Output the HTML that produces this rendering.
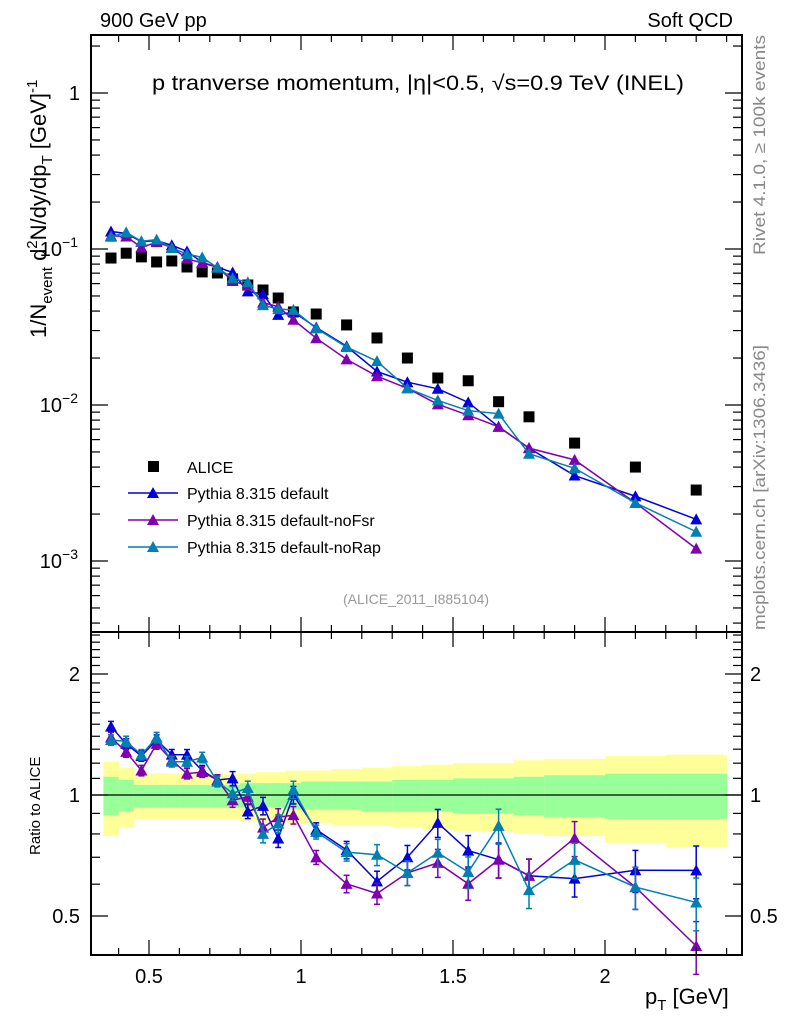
<!DOCTYPE html>
<html><head><meta charset="utf-8"><style>
html,body{margin:0;padding:0;background:#fff;}
svg{display:block;font-family:"Liberation Sans",Arial,sans-serif;}
</style></head><body>
<svg id="chart" width="786" height="1024" viewBox="0 0 786 1024" xmlns="http://www.w3.org/2000/svg">
<text x="100" y="27" font-size="20">900 GeV pp</text>
<text x="733" y="27" font-size="20" text-anchor="end">Soft QCD</text>
<text x="152" y="90" font-size="21" textLength="532" lengthAdjust="spacingAndGlyphs">p tranverse momentum, |η|&lt;0.5, √s=0.9 TeV (INEL)</text>
<text x="416" y="604" font-size="14" fill="#999" text-anchor="middle">(ALICE_2011_I885104)</text>
<text transform="translate(765,255) rotate(-90)" font-size="17" fill="#888" textLength="220" lengthAdjust="spacingAndGlyphs">Rivet 4.1.0, ≥ 100k events</text>
<text transform="translate(765,630) rotate(-90)" font-size="17" fill="#888" textLength="285" lengthAdjust="spacingAndGlyphs">mcplots.cern.ch [arXiv:1306.3436]</text>
<text transform="translate(46,338) rotate(-90)" font-size="22">1/N<tspan font-size="15" dy="6">event</tspan><tspan dy="-6"> d</tspan><tspan font-size="15" dy="-9">2</tspan><tspan dy="9">N/dy/dp</tspan><tspan font-size="15" dy="6">T</tspan><tspan dy="-6"> [GeV]</tspan><tspan font-size="15" dy="-9">-1</tspan></text>
<text transform="translate(40,855) rotate(-90)" font-size="15">Ratio to ALICE</text>
<text x="645" y="1004" font-size="22">p<tspan font-size="15" dy="6">T</tspan><tspan dy="-6"> [GeV]</tspan></text>
<g id="g"></g>
</svg>
<script>
const xs=[0.375,0.425,0.475,0.525,0.575,0.625,0.675,0.725,0.775,0.825,0.875,0.925,0.975,1.05,1.15,1.25,1.35,1.45,1.55,1.65,1.75,1.9,2.1,2.3];
const binLo=[0.35,0.4,0.45,0.5,0.55,0.6,0.65,0.7,0.75,0.8,0.85,0.9,0.95,1.0,1.1,1.2,1.3,1.4,1.5,1.6,1.7,1.8,2.0,2.2];
const binHi=[0.4,0.45,0.5,0.55,0.6,0.65,0.7,0.75,0.8,0.85,0.9,0.95,1.0,1.1,1.2,1.3,1.4,1.5,1.6,1.7,1.8,2.0,2.2,2.4];
const alice=[0.0875,0.094,0.089,0.0826,0.0838,0.0767,0.0713,0.0702,0.0643,0.0588,0.0546,0.0485,0.0395,0.0383,0.0326,0.0269,0.0200,0.0149,0.0143,0.0105,0.0084,0.0057,0.0040,0.00285];
const pyDefault=[0.1295,0.1260,0.1113,0.1132,0.1056,0.0966,0.0820,0.0765,0.0707,0.0535,0.0513,0.0378,0.0395,0.0314,0.0238,0.0164,0.0140,0.0127,0.0104,0.00725,0.00529,0.00353,0.0026,0.00185];
const pyNoFsr=[0.1216,0.1203,0.1024,0.1107,0.1022,0.0867,0.0813,0.0765,0.0624,0.0582,0.0453,0.0427,0.0352,0.0268,0.0196,0.0153,0.0128,0.0101,0.0086,0.00725,0.00529,0.00445,0.00236,0.0012];
const pyNoRap=[0.1199,0.1278,0.1121,0.1148,0.1014,0.0928,0.0884,0.0758,0.0649,0.0612,0.0437,0.0412,0.0407,0.0310,0.0235,0.0191,0.0128,0.0107,0.0092,0.0088,0.00487,0.00393,0.00236,0.00154];
const relErr=[0.03,0.03,0.03,0.03,0.03,0.03,0.03,0.03,0.04,0.04,0.05,0.05,0.05,0.04,0.05,0.06,0.07,0.08,0.09,0.1,0.1,0.1,0.12,0.15];
const yelHi=[1.21,1.17,1.13,1.13,1.13,1.13,1.13,1.13,1.13,1.13,1.14,1.14,1.15,1.15,1.16,1.17,1.18,1.19,1.2,1.2,1.22,1.23,1.25,1.26];
const yelLo=[0.79,0.83,0.87,0.87,0.87,0.87,0.87,0.87,0.87,0.86,0.86,0.86,0.85,0.85,0.84,0.84,0.83,0.82,0.81,0.81,0.8,0.79,0.76,0.74];
const grnHi=[1.11,1.09,1.06,1.06,1.06,1.06,1.06,1.06,1.06,1.07,1.07,1.07,1.07,1.08,1.08,1.08,1.09,1.09,1.1,1.1,1.11,1.12,1.13,1.13];
const grnLo=[0.89,0.91,0.93,0.93,0.93,0.93,0.93,0.93,0.93,0.93,0.93,0.93,0.92,0.92,0.92,0.91,0.91,0.91,0.9,0.9,0.89,0.88,0.87,0.87];
const xTickLabels=["0.5","1","1.5","2"];
const xTickVals=[0.5,1,1.5,2];
const ratioTickLabels=["0.5","1","2"];
const ratioTickVals=[0.5,1,2];

const L=91,R=742,T=35,MID=632,B=955;
const X=v=>-3+304*v;
const Y=v=>93-156*Math.log10(v);
const RY=r=>795-121*Math.log2(r);
const NS="http://www.w3.org/2000/svg";
const g=document.getElementById('g');
function mk(tag,attrs,parent){const e=document.createElementNS(NS,tag);for(const k in attrs)e.setAttribute(k,attrs[k]);(parent||g).appendChild(e);return e;}

for(let i=0;i<xs.length;i++){
  const y1=mk('rect',{x:X(binLo[i]),y:RY(yelHi[i]),width:X(binHi[i])-X(binLo[i])+0.5,height:RY(yelLo[i])-RY(yelHi[i]),fill:'#ffff99'});
  
  
  const g1=mk('rect',{x:X(binLo[i]),y:RY(grnHi[i]),width:X(binHi[i])-X(binLo[i])+0.5,height:RY(grnLo[i])-RY(grnHi[i]),fill:'#99ff99'});
  
  
}
const ref=mk('line',{x1:L,x2:R,y1:RY(1),y2:RY(1),stroke:'#000','stroke-width':1.2});



function tri(x,y,c,parent){return mk('polygon',{points:`${x},${y-6} ${x-6},${y+5} ${x+6},${y+5}`,fill:c},parent);}

for(let i=0;i<xs.length;i++){
  const s=mk('rect',{x:X(xs[i])-5.5,y:Y(alice[i])-5.5,width:11,height:11,fill:'#000'});
  
  
}

const series=[[pyDefault,'#0000dd','pythia-default'],[pyNoFsr,'#7f00b0','pythia-nofsr'],[pyNoRap,'#0080b0','pythia-norap']];
series.forEach(([vals,c,nm])=>{
  const sg=mk('g',{});
  
  
  const pm=xs.map((x,i)=>X(x)+','+Y(vals[i])).join(' ');
  mk('polyline',{points:pm,fill:'none',stroke:c,'stroke-width':1.5},sg);
  const pr=xs.map((x,i)=>X(x)+','+RY(vals[i]/alice[i])).join(' ');
  mk('polyline',{points:pr,fill:'none',stroke:c,'stroke-width':1.5},sg);
  xs.forEach((x,i)=>{
    const r=vals[i]/alice[i], e=r*relErr[i];
    const cx=X(x);
    mk('line',{x1:cx,x2:cx,y1:RY(r+e),y2:RY(r-e),stroke:c,'stroke-width':1.5},sg);
    mk('line',{x1:cx-3,x2:cx+3,y1:RY(r+e),y2:RY(r+e),stroke:c,'stroke-width':1.5},sg);
    mk('line',{x1:cx-3,x2:cx+3,y1:RY(r-e),y2:RY(r-e),stroke:c,'stroke-width':1.5},sg);
    const t1=tri(cx,Y(vals[i]),c,sg);
    
    
    const t2=tri(cx,RY(r),c,sg);
    
    
  });
});

mk('rect',{x:L,y:T,width:R-L,height:MID-T,fill:'none',stroke:'#000','stroke-width':2});
mk('rect',{x:L,y:MID,width:R-L,height:B-MID,fill:'none',stroke:'#000','stroke-width':2});
const ax=mk('g',{stroke:'#000','stroke-width':1.2});
for(let k=4;k<=24;k++){
  const v=k/10, x=X(v); if(x<L||x>R) continue;
  const major=(k%5===0), len=major?15:7;
  [[T,1],[MID,-1],[MID,1],[B,-1]].forEach(([y0,d])=>mk('line',{x1:x,x2:x,y1:y0,y2:y0+d*len},ax));
}
xTickVals.forEach((v,i)=>{
  const t=mk('text',{x:X(v),y:983,'font-size':20,'text-anchor':'middle'});t.textContent=xTickLabels[i];
  
  
});
for(let d=-4;d<=0;d++){for(let m=1;m<=9;m++){
  const v=m*Math.pow(10,d), y=Y(v); if(y<T||y>MID) continue;
  const len=m===1?17:9;
  mk('line',{x1:L,x2:L+len,y1:y,y2:y},ax); mk('line',{x1:R,x2:R-len,y1:y,y2:y},ax);
}}
[[1,'1'],[0.1,'10'],[0.01,'10'],[0.001,'10']].forEach(([v,s],i)=>{
  const t=mk('text',{x:i===0?80:78,y:Y(v)+7,'font-size':20,'text-anchor':'end'});
  t.textContent=s;
  if(i>0){const sp=document.createElementNS(NS,'tspan');sp.setAttribute('dy','-9');sp.setAttribute('font-size','14');sp.textContent='−'+i;t.appendChild(sp);}
  
  
});
for(let k=4;k<=25;k++){
  const v=k/10,y=RY(v); if(y<MID||y>B) continue;
  const len=(k===5||k===10||k===20)?17:9;
  mk('line',{x1:L,x2:L+len,y1:y,y2:y},ax); mk('line',{x1:R,x2:R-len,y1:y,y2:y},ax);
}
ratioTickVals.forEach((v,i)=>{
  const t=mk('text',{x:80,y:RY(v)+7,'font-size':20,'text-anchor':'end'});t.textContent=ratioTickLabels[i];
  
  
  const t2=mk('text',{x:750,y:RY(v)+7,'font-size':20});t2.textContent=ratioTickLabels[i];
  
  
});
const lg=mk('g',{});


mk('rect',{x:148,y:461,width:11,height:11,fill:'#000'},lg);
const lt=mk('text',{x:187,y:473,'font-size':16},lg);lt.textContent='ALICE';
[['Pythia 8.315 default','#0000dd',493],['Pythia 8.315 default-noFsr','#7f00b0',520],['Pythia 8.315 default-noRap','#0080b0',547]].forEach(([s,c,y])=>{
  const e=mk('g',{},lg);
  
  
  mk('line',{x1:128,x2:178,y1:y,y2:y,stroke:c,'stroke-width':1.5},e);
  tri(153,y,c,e);
  const t=mk('text',{x:187,y:y+6,'font-size':16},e);t.textContent=s;
});
</script>
</body></html>
